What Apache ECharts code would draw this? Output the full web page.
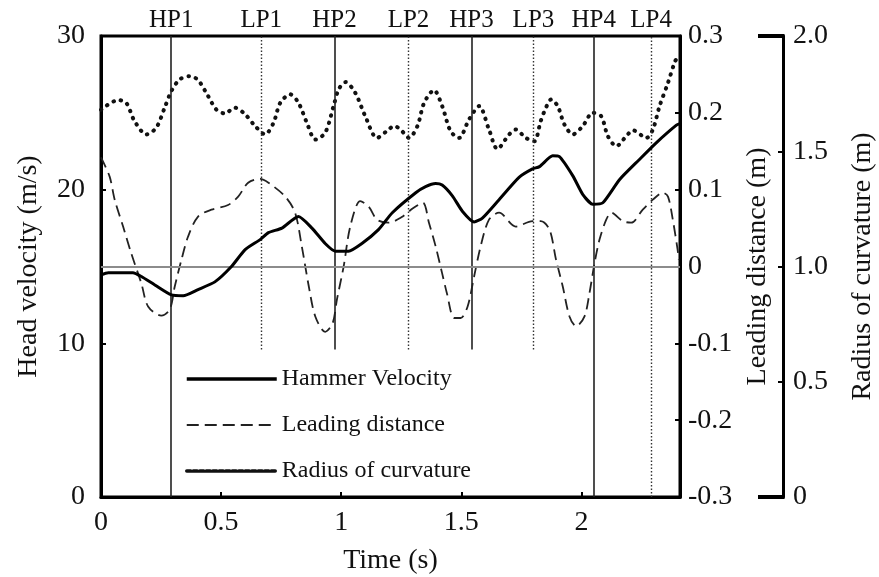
<!DOCTYPE html>
<html><head><meta charset="utf-8">
<script src="https://cdn.jsdelivr.net/npm/echarts@6/dist/echarts.min.js"></script>
<style>html,body{margin:0;padding:0;background:#fff}#c{width:879px;height:577px}</style>
</head><body><div id="c"></div>
<script>
const FONT = 'Liberation Serif';
const INK = '#111';

// Hammer velocity (m/s) vs time (s)
const velT = [0, 0.03, 0.133, 0.168, 0.224, 0.293, 0.342, 0.404, 0.474, 0.543, 0.6, 0.6625, 0.697, 0.753, 0.822, 0.878, 0.933, 0.975, 1.03, 1.086, 1.155, 1.2125, 1.31, 1.351, 1.393, 1.42, 1.4625, 1.504, 1.553, 1.5875, 1.657, 1.74, 1.796, 1.825, 1.88, 1.908, 1.964, 2.005, 2.047, 2.089, 2.158, 2.24, 2.311, 2.395, 2.41];
const velV = [14.45, 14.6, 14.6, 14.35, 13.8, 13.15, 13.1, 13.5, 14.0, 15.0, 16.1, 16.75, 17.2, 17.5, 18.25, 17.5, 16.5, 16.0, 16.0, 16.5, 17.4, 18.5, 19.8, 20.2, 20.4, 20.3, 19.6, 18.6, 17.9, 18.15, 19.35, 20.8, 21.35, 21.5, 22.2, 22.15, 20.9, 19.7, 19.05, 19.15, 20.65, 21.95, 23.05, 24.2, 24.3];

// Leading distance (m) vs time (s)
const leadT = [0, 0.036, 0.057, 0.092, 0.126, 0.168, 0.196, 0.251, 0.286, 0.307, 0.335, 0.3625, 0.404, 0.46, 0.529, 0.571, 0.6125, 0.6625, 0.697, 0.767, 0.808, 0.836, 0.865, 0.892, 0.933, 0.964, 0.982, 1.01, 1.0375, 1.079, 1.114, 1.149, 1.197, 1.25, 1.30, 1.34, 1.365, 1.393, 1.42, 1.44, 1.47, 1.497, 1.526, 1.553, 1.58, 1.615, 1.657, 1.726, 1.796, 1.83, 1.867, 1.894, 1.922, 1.95, 1.978, 2.0125, 2.033, 2.054, 2.075, 2.103, 2.124, 2.172, 2.207, 2.255, 2.297, 2.339, 2.36, 2.38, 2.40, 2.405];
const leadV = [0.142, 0.117, 0.087, 0.052, 0.017, -0.022, -0.052, -0.064, -0.056, -0.026, 0.009, 0.039, 0.065, 0.074, 0.080, 0.091, 0.109, 0.114, 0.109, 0.091, 0.070, 0.026, -0.026, -0.065, -0.085, -0.074, -0.043, 0.0, 0.052, 0.085, 0.078, 0.061, 0.057, 0.064, 0.076, 0.083, 0.057, 0.026, -0.009, -0.035, -0.067, -0.067, -0.052, -0.013, 0.026, 0.061, 0.070, 0.052, 0.059, 0.059, 0.048, 0.009, -0.026, -0.065, -0.078, -0.065, -0.035, 0.004, 0.035, 0.061, 0.070, 0.059, 0.057, 0.074, 0.087, 0.096, 0.091, 0.061, 0.022, 0.009];

// Radius of curvature (m) vs time (s)
const radT = [0, 0.071, 0.105, 0.14, 0.189, 0.23, 0.265, 0.293, 0.328, 0.37, 0.404, 0.446, 0.48, 0.515, 0.557, 0.6, 0.642, 0.683, 0.718, 0.746, 0.7875, 0.822, 0.857, 0.892, 0.933, 0.968, 0.989, 1.018, 1.058, 1.1, 1.149, 1.197, 1.22, 1.247, 1.282, 1.317, 1.345, 1.386, 1.42, 1.455, 1.49, 1.532, 1.574, 1.615, 1.65, 1.699, 1.726, 1.768, 1.803, 1.83, 1.846, 1.874, 1.901, 1.929, 1.964, 2.005, 2.047, 2.082, 2.11, 2.145, 2.186, 2.214, 2.27, 2.297, 2.325, 2.36, 2.387, 2.398];
const radV = [1.68, 1.722, 1.71, 1.63, 1.573, 1.602, 1.689, 1.761, 1.812, 1.826, 1.809, 1.739, 1.681, 1.664, 1.689, 1.66, 1.609, 1.573, 1.623, 1.71, 1.747, 1.71, 1.623, 1.551, 1.58, 1.696, 1.768, 1.8, 1.754, 1.652, 1.558, 1.594, 1.61, 1.594, 1.558, 1.609, 1.71, 1.765, 1.696, 1.587, 1.558, 1.638, 1.696, 1.594, 1.51, 1.573, 1.594, 1.558, 1.543, 1.63, 1.674, 1.725, 1.696, 1.616, 1.573, 1.609, 1.667, 1.652, 1.565, 1.522, 1.565, 1.591, 1.558, 1.594, 1.696, 1.797, 1.884, 1.906];

// Phase markers
const markerNames = ['HP1', 'LP1', 'HP2', 'LP2', 'HP3', 'LP3', 'HP4', 'LP4'];
const markerTimes = [0.292, 0.667, 0.972, 1.28, 1.542, 1.80, 2.051, 2.29];
const markerBottoms = [0, 9.6, 9.6, 9.6, 9.6, 9.6, 0, 0];

const seriesNames = ['Hammer Velocity', 'Leading distance', 'Radius of curvature'];
const xMin = 0, xMax = 2.41, xStep = 0.5;
const velMin = 0, velMax = 30, velStep = 10;
const leadMin = -0.3, leadMax = 0.3, leadStep = 0.1;
const radMin = 0, radMax = 2.0, radStep = 0.5;
const zeroLineVel = 15;

const zip = (a, b) => a.map((t, i) => [t, b[i]]);

const markerLines = markerNames.map((n, i) => {
  const hp = n.startsWith('HP');
  return [
    { name: n, coord: [markerTimes[i], markerBottoms[i]],
      lineStyle: hp ? { color: '#222', width: 1.6, type: 'solid' } : { color: '#333', width: 1.4, type: [1.5, 2] } },
    { coord: [markerTimes[i], velMax] }
  ];
});
markerLines.push({ yAxis: zeroLineVel, label: { show: false }, lineStyle: { color: '#8c8c8c', width: 1.8, type: 'solid' } });

const axisFont = { fontFamily: FONT, fontSize: 28, color: INK };

const chart = echarts.init(document.getElementById('c'), null, { renderer: 'canvas' });
chart.setOption({
  animation: false,
  backgroundColor: '#fff',
  grid: { left: 101, right: 199, top: 36, bottom: 80, show: true, borderColor: '#000', borderWidth: 3,
          outerBoundsMode: 'none', containLabel: false },
  legend: {
    orient: 'vertical', left: 180, top: 362,
    itemWidth: 90, itemHeight: 14, itemGap: 22,
    itemStyle: { opacity: 0 },
    textStyle: { fontFamily: FONT, fontSize: 24, color: INK },
    data: [
      { name: seriesNames[0], itemStyle: { opacity: 0 }, lineStyle: { width: 3.5, color: '#000', type: 'solid' } },
      { name: seriesNames[1], itemStyle: { opacity: 0 }, lineStyle: { width: 2, color: '#222', type: [12, 6] } },
      { name: seriesNames[2], itemStyle: { opacity: 0 }, lineStyle: { width: 3.5, color: '#111', type: [4, 2.5] } }
    ]
  },
  xAxis: {
    type: 'value', min: xMin, max: xMax, interval: xStep,
    name: 'Time (s)', nameLocation: 'middle', nameGap: 50,
    nameTextStyle: axisFont,
    axisLine: { lineStyle: { color: '#000', width: 3 } },
    axisTick: { inside: true, length: 5, lineStyle: { color: '#000', width: 2 } },
    axisLabel: Object.assign({ margin: 12, formatter: v => (Math.abs(v / xStep - Math.round(v / xStep)) < 1e-6 ? String(+v.toFixed(1)) : '') }, axisFont),
    splitLine: { show: false }
  },
  yAxis: [
    {
      type: 'value', position: 'left', min: velMin, max: velMax, interval: velStep,
      name: 'Head velocity (m/s)', nameLocation: 'middle', nameGap: 58, nameTextStyle: axisFont,
      axisLine: { show: true, lineStyle: { color: '#000', width: 3 } },
      axisTick: { show: true, inside: true, length: 5, lineStyle: { color: '#000', width: 2 } },
      axisLabel: Object.assign({ margin: 16 }, axisFont),
      splitLine: { show: false }
    },
    {
      type: 'value', position: 'right', min: leadMin, max: leadMax, interval: leadStep,
      name: 'Leading distance (m)', nameLocation: 'middle', nameGap: 62, nameTextStyle: axisFont,
      axisLine: { show: true, lineStyle: { color: '#000', width: 3 } },
      axisTick: { show: true, inside: true, length: 5, lineStyle: { color: '#000', width: 2 } },
      axisLabel: Object.assign({ margin: 8, formatter: v => (Math.abs(v) < 1e-9 ? '0' : v.toFixed(1)) }, axisFont),
      splitLine: { show: false }
    },
    {
      type: 'value', position: 'right', offset: 103, min: radMin, max: radMax, interval: radStep,
      name: 'Radius of curvature (m)', nameLocation: 'middle', nameGap: 66, nameTextStyle: axisFont,
      axisLine: { show: true, lineStyle: { color: '#000', width: 3 } },
      axisTick: { show: true, inside: true, length: 5, lineStyle: { color: '#000', width: 2 } },
      axisLabel: Object.assign({ margin: 10, formatter: v => (Math.abs(v) < 1e-9 ? '0' : v.toFixed(1)) }, axisFont),
      splitLine: { show: false }
    }
  ],
  series: [
    {
      name: seriesNames[0], type: 'line', yAxisIndex: 0, data: zip(velT, velV),
      symbol: 'none', smooth: 0.2, z: 5,
      lineStyle: { color: '#000', width: 3, type: 'solid' }, itemStyle: { color: '#000' },
      markLine: {
        silent: true, symbol: ['none', 'none'], animation: false,
        label: { show: true, position: 'end', distance: 3, formatter: '{b}', fontFamily: FONT, fontSize: 25, color: INK },
        data: markerLines
      }
    },
    {
      name: seriesNames[1], type: 'line', yAxisIndex: 1, data: zip(leadT, leadV),
      symbol: 'none', smooth: 0.3, z: 4,
      lineStyle: { color: '#222', width: 1.8, type: [11, 6] }, itemStyle: { color: '#222' }
    },
    {
      name: seriesNames[2], type: 'line', yAxisIndex: 2, data: zip(radT, radV),
      symbol: 'none', smooth: 0.3, z: 4,
      lineStyle: { color: '#111', width: 4, type: [0.5, 7], cap: 'round' }, itemStyle: { color: '#111' }
    }
  ]
});

// Thick end bars of the curvature axis
const xR = chart.convertToPixel({ xAxisIndex: 0 }, xMax) + 103;
const yTop = chart.convertToPixel({ yAxisIndex: 2 }, radMax);
const yBot = chart.convertToPixel({ yAxisIndex: 2 }, radMin);
chart.setOption({
  graphic: [
    { type: 'line', shape: { x1: xR - 25, y1: yTop, x2: xR + 1.5, y2: yTop }, style: { stroke: '#000', lineWidth: 4 }, z: 100 },
    { type: 'line', shape: { x1: xR - 25, y1: yBot, x2: xR + 1.5, y2: yBot }, style: { stroke: '#000', lineWidth: 4 }, z: 100 }
  ]
});
</script>
</body></html>
